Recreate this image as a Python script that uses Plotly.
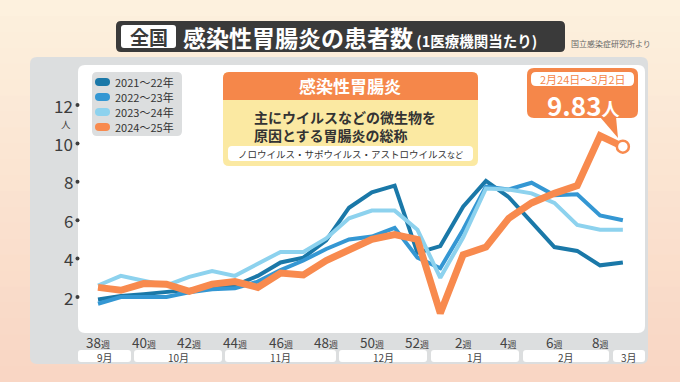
import plotly.graph_objects as go

# ---------------- data ----------------
weeks = ["38", "39", "40", "41", "42", "43", "44", "45", "46", "47", "48", "49", "50", "51", "52",
         "1", "2", "3", "4", "5", "6", "7", "8", "9"]
s2021 = [1.87, 2.05, 2.15, 2.25, 2.35, 2.45, 2.6, 3.1, 3.8, 4.05, 4.95, 6.65, 7.45, 7.8, 4.3,
         4.65, 6.7, 8.05, 7.2, 5.9, 4.6, 4.4, 3.65, 3.8]
s2022 = [1.65, 2.0, 2.0, 2.0, 2.25, 2.4, 2.45, 2.8, 3.4, 3.9, 4.5, 5.0, 5.15, 5.6, 4.05,
         3.5, 5.5, 7.75, 7.6, 7.95, 7.3, 7.35, 6.25, 6.0]
s2023 = [2.6, 3.1, 2.85, 2.6, 3.05, 3.35, 3.1, 3.75, 4.35, 4.35, 5.05, 6.1, 6.5, 6.5, 5.5,
         3.0, 5.1, 7.65, 7.6, 7.4, 6.9, 5.75, 5.5, 5.5]
s2024 = [2.5, 2.35, 2.7, 2.67, 2.3, 2.67, 2.8, 2.5, 3.25, 3.15, 3.9, 4.45, 5.0, 5.25, 5.0,
         1.15, 4.2, 4.6, 6.1, 6.9, 7.4, 7.8, 10.4, 9.83]
series_names = ["2021～22年", "2022～23年", "2023～24年", "2024～25年"]
series_colors = ["#1a78a8", "#3497d3", "#8dd2ee", "#f88a4e"]
y_ticks = [2, 4, 6, 8, 10, 12]
x_tick_idx = [0, 2, 4, 6, 8, 10, 12, 14, 16, 18, 20, 22]
months = ["9月", "10月", "11月", "12月", "1月", "2月", "3月"]
month_spans = [(78, 131), (134, 222), (225, 336), (339, 427), (431, 519), (523, 609), (613, 645)]
latest_value = 9.83
latest_label = "2月24日～3月2日"

# ---------------- geometry helpers ----------------
W, H = 680, 382
PL, PR, PT, PB = 78, 645, 65, 333


def px(x):
    return (x - PL) / (PR - PL)


def py(y):
    return (PB - y) / (PB - PT)


def rrect(x0, y0, x1, y1, r):
    X0, X1 = px(x0), px(x1)
    Y0, Y1 = py(y0), py(y1)
    rx = r / (PR - PL)
    ry = r / (PB - PT)
    return (f"M{X0 + rx},{Y0} L{X1 - rx},{Y0} Q{X1},{Y0} {X1},{Y0 - ry} "
            f"L{X1},{Y1 + ry} Q{X1},{Y1} {X1 - rx},{Y1} L{X0 + rx},{Y1} "
            f"Q{X0},{Y1} {X0},{Y1 + ry} L{X0},{Y0 - ry} Q{X0},{Y0} {X0 + rx},{Y0} Z")


shapes = []
annotations = []
FONT = "Noto Sans CJK JP"


def add_rr(x0, y0, x1, y1, r, fill, layer="below", line=None):
    shapes.append(dict(type="path", xref="paper", yref="paper", path=rrect(x0, y0, x1, y1, r),
                       fillcolor=fill, line=dict(width=0) if line is None else line, layer=layer))


def add_text(x, y, text, size, color, xanchor="center", yanchor="middle", weight="normal", align="center"):
    annotations.append(dict(xref="paper", yref="paper", x=px(x), y=py(y), text=text, showarrow=False,
                            xanchor=xanchor, yanchor=yanchor, align=align,
                            font=dict(family=FONT, size=size, color=color, weight=weight)))


# background gradient bands
c_top = (253, 241, 222)
c_bot = (249, 214, 196)
n = 24
for i in range(n):
    t = i / (n - 1)
    c = tuple(int(c_top[k] + (c_bot[k] - c_top[k]) * t) for k in range(3))
    y0 = H * i / n
    y1 = H * (i + 1) / n + 1
    shapes.append(dict(type="rect", xref="paper", yref="paper", x0=px(0), x1=px(W), y0=py(y0), y1=py(y1),
                       fillcolor=f"rgb{c}", line=dict(width=0), layer="below"))

# gray panel and white plot area
add_rr(30, 57, 648, 364, 7, "#dcdedf")
add_rr(PL, PT, PR, PB, 7, "#ffffff")

# month boxes
for m, (a, b) in zip(months, month_spans):
    add_rr(a, 350, b, 362, 3, "#ffffff")
    add_text((a + b) / 2, 357, m, 10, "#444444")

# week labels
for i in x_tick_idx:
    xpix = 98 + 22.82 * i
    add_text(xpix, 342, f"{weeks[i]}<span style='font-size:9px'>週</span>", 13.5, "#444444")

# y labels with dot markers
for v in y_ticks:
    ypix = 335.4 - 19.2 * v
    add_text(75, ypix, f"{v}", 17, "#3d3d3d", xanchor="right")
    shapes.append(dict(type="circle", xref="paper", yref="paper",
                       x0=px(75.5), x1=px(79.5), y0=py(ypix - 2), y1=py(ypix + 2),
                       fillcolor="#3d3d3d", line=dict(width=0), layer="above"))
add_text(66, 123.5, "人", 9.5, "#3d3d3d")

# title
add_rr(116, 21, 565, 52, 5, "#3a3a3a", layer="above")
add_rr(121, 25, 176, 48, 3, "#ffffff", layer="above")
add_text(148.5, 36.5, "全国", 19, "#3a3a3a", weight="bold")
add_text(181, 36.5, "感染性胃腸炎の患者数<span style='font-size:14.5px'> (1医療機関当たり)</span>", 23,
         "#ffffff", xanchor="left", weight="bold")
add_text(611, 44, "国立感染症研究所より", 8, "#666666")

# legend
add_rr(92, 72, 182, 136, 5, "#dcdedf", layer="above")
for k, (nm, col) in enumerate(zip(series_names, series_colors)):
    yy = 82 + 15 * k
    add_rr(95, yy - 4, 110, yy + 4, 4, col, layer="above")
    add_text(113, yy, nm, 11, "#333333", xanchor="left")

# info box
add_rr(223, 72, 478, 166, 6, "#fbe9a2", layer="above")
add_rr(223, 72, 478, 100, 6, "#f5874a", layer="above")
shapes.append(dict(type="rect", xref="paper", yref="paper", x0=px(223), x1=px(478), y0=py(100), y1=py(94),
                   fillcolor="#f5874a", line=dict(width=0), layer="above"))
add_text(350, 86, "感染性胃腸炎", 17, "#ffffff", weight="bold")
add_text(252, 125.5, "主にウイルスなどの微生物を<br>原因とする胃腸炎の総称", 14, "#333333",
         xanchor="left", weight="bold", align="left")
add_rr(228, 146, 473, 161, 4, "#ffffff", layer="above")
add_text(350, 153.5, "ノロウイルス・サポウイルス・アストロウイルス<span style='font-size:8px'>など</span>",
         9.5, "#333333")

# callout
add_rr(527, 68, 638, 118, 7, "#f5874a", layer="above")
shapes.append(dict(type="path", xref="paper", yref="paper",
                   path=f"M{px(600)},{py(117)} L{px(616)},{py(117)} L{px(618)},{py(138)} Z",
                   fillcolor="#f5874a", line=dict(width=0), layer="above"))
add_rr(531, 72, 634, 86, 5, "#ffffff", layer="above")
add_text(582.5, 79, latest_label, 11, "#f5874a")
add_text(583, 104.5, f"{latest_value:.2f}<span style='font-size:18px'>人</span>", 26, "#ffffff", weight="bold")

# ---------------- traces ----------------
fig = go.Figure()
xs = list(range(len(weeks)))
for nm, data, col, w in zip(series_names, [s2021, s2022, s2023, s2024], series_colors, [4, 4, 4, 7]):
    fig.add_trace(go.Scatter(x=xs, y=data, name=nm, mode="lines",
                             line=dict(color=col, width=w), showlegend=False, hoverinfo="skip"))
fig.add_trace(go.Scatter(x=[xs[-1]], y=[s2024[-1]], mode="markers", showlegend=False,
                         marker=dict(size=12, color="#ffffff", line=dict(color="#f88a4e", width=2.5))))

r0 = -20 / 22.82
r1 = r0 + (PR - PL) / 22.82
y0v = (335.4 - PB) / 19.2
y1v = y0v + (PB - PT) / 19.2

fig.update_layout(
    width=W, height=H,
    margin=dict(l=PL, r=W - PR, t=PT, b=H - PB, pad=0),
    paper_bgcolor="#fbe6d4", plot_bgcolor="rgba(0,0,0,0)",
    xaxis=dict(range=[r0, r1], visible=False, fixedrange=True),
    yaxis=dict(range=[y0v, y1v], visible=False, fixedrange=True),
    shapes=shapes, annotations=annotations, showlegend=False,
    font=dict(family=FONT),
)
fig.write_html("out.html", config={"displayModeBar": False},
               post_script="document.body.style.margin='0';document.body.style.padding='0';")
